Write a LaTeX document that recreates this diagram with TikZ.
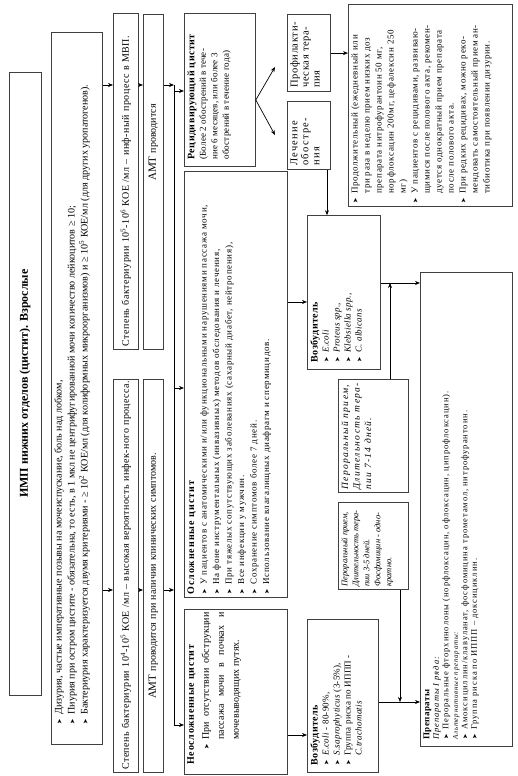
\documentclass[tikz,border=0pt]{standalone}
\usepackage{fontspec}
\setmainfont{Liberation Serif}
\newfontfamily\dvfont{DejaVu Sans}
\usetikzlibrary{arrows.meta,calc}
\newcommand\bulsym{{\dvfont\fontsize{6.5}{6.5}\selectfont\char"27A4}}
\newcommand\bul[1][12pt]{\par\noindent\hangindent=#1\hangafter=1\makebox[#1][r]{\bulsym\hspace{4pt}}\ignorespaces}
\newcommand\mkbox[7][]{\node[bx,#1] (#2) at (#3,#4) {\parbox[c][\dimexpr#6pt-6pt\relax][t]{\dimexpr#5pt-6pt\relax}{\parindent=0pt\relax #7}};}
\newcommand\fs[3]{\fontsize{#1}{#2}\selectfont\addfontfeatures{LetterSpace=#3}}
\newcommand\hd[3]{{\bfseries\fontsize{#1}{#1}\selectfont\addfontfeatures{LetterSpace=#2}#3}}
\begin{document}
\begin{tikzpicture}[x=1pt,y=1pt]
\tikzset{
 bx/.style={draw=black!75, line width=0.8pt, anchor=north west, inner sep=3pt},
 arr/.style={-{Stealth[length=5pt,width=4pt]}, line width=0.7pt},
 ln/.style={line width=0.7pt},
}
\begin{scope}[rotate=90, transform shape]
\useasboundingbox (0,0) rectangle (776,518);
% title
\node[bx, anchor=center, minimum width=623pt, minimum height=32pt, font=\bfseries\fontsize{12}{14}\selectfont] (title) at (392.5,493) {ИМП нижних отделов (цистит). Взрослые};
% criteria
\mkbox[font=\fs{10.1}{13}{0}]{crit}{31}{467}{712}{51}{%
\bul[27pt] Дизурия, частые императивные позывы на мочеиспускание, боль над лобком,
\bul[27pt] Пиурия при остром цистите - обязательна, то есть, в 1 мкл не центрифугированной мочи количество лейкоцитов ≥ 10;
\bul[27pt] Бактериурия характеризуется двумя критериями - ≥ 10\textsuperscript{2} КОЕ/мл (для колиформных микроорганизмов) и ≥ 10\textsuperscript{5} КОЕ/мл (для других уропатогенов).}
% bacteriuria
\node[bx, text width=330pt, minimum height=25pt, align=left, font=\fs{10}{12}{5}] (st1) at (426,405) {Степень бактериурии 10\textsuperscript{5}-10\textsuperscript{6} КОЕ /мл – инф-ный процесс в МВП.};
\node[bx, text width=387pt, minimum height=25pt, align=left, font=\fs{10}{12}{4}] (st2) at (3,405) {Степень бактериурии 10\textsuperscript{4}-10\textsuperscript{5} КОЕ /мл – высокая вероятность инфек-ного процесса.};
% AMT
\node[bx, text width=329pt, minimum height=20pt, align=center, font=\fs{10}{12}{0}] (amt1) at (426,375) {\hspace*{79pt}{\fontsize{11}{11}\selectfont АМТ} проводится};
\node[bx, text width=387pt, minimum height=20pt, align=center, font=\fs{10}{12}{0}] (amt2) at (3,375) {{\fontsize{11}{11}\selectfont АМТ} проводится при наличии клинических симптомов.};
% types
\mkbox[font=\fs{10}{15}{1}]{neosl}{1}{334}{165}{103}{\leftskip=7pt
\hd{10}{7}{Неосложненные цистит}
\bul[25pt] При отсутствии обструкции\linebreak пассажа мочи в почках и\linebreak мочевыводящих путях.}
\mkbox[font=\fs{9}{12.5}{8}]{osl}{178}{334}{426}{103}{%
\hd{10}{10}{Осложненные цистит}
\bul[10pt] У пациентов с анатомическими и/или функциональными нарушениями пассажа мочи,
\bul[10pt] На фоне инструментальных (инвазивных) методов обследования и лечения,
\bul[10pt] При тяжелых сопутствующих заболеваниях (сахарный диабет, нейтропения),
\bul[10pt] Все инфекции у мужчин.
\bul[10pt] Сохранение симптомов более 7 дней.
\bul[10pt] Использование влагалищных диафрагм и спермицидов.}
\mkbox[font=\fs{9}{11.5}{2}]{rec}{609}{334}{153}{71}{\leftskip=4pt
\hd{10}{5}{Рецидивирующий цистит}\\
(Более 2 обострений в тече-\\ние 6 месяцев, или более 3\\ обострений в течение года)}
\mkbox[font=\fs{10.5}{11}{6}]{prof}{684}{231}{77}{43}{\leftskip=1pt Профилакти-\\ческая тера-\\пия}
\mkbox[font=\fs{10.5}{11}{12}]{lech}{606}{231}{68}{43}{\leftskip=1pt Лечение\\обостре-\\ния}
\mkbox[font=\fs{9}{12}{7}]{det}{569}{170}{202}{164}{%
\bul[10pt] Продолжительный (ежедневный или\\ три раза в неделю прием низких доз\\ препарата нитрофурантоин 50 мг,\\ норфлоксацин 200мг, цефалексин 250\\ мг)
\bul[10pt] У пациентов с рецидивами, развиваю-\\щимися после полового акта, рекомен-\\дуется однократный прием препарата\\ после полового акта.
\bul[10pt] При редких рецидивах, можно реко-\\мендовать самостоятельный прием ан-\\тибиотика при появлении дизурии.}
% pathogens
\mkbox[font=\fs{9}{11}{3}]{vc}{406}{211}{154}{73}{\leftskip=4pt
\hd{10}{5}{Возбудитель}
\bul[10pt] \textit{E.coli}
\bul[10pt] \textit{Proteus spp.},
\bul[10pt] \textit{Klebsiella spp}.,
\bul[10pt] \textit{C. albicans}}
\mkbox[font=\fs{9}{11}{3}]{vu}{3}{211}{153}{71}{\leftskip=4pt
\hd{10}{5}{Возбудитель}
\bul[10pt] \textit{E.coli} - 80-90\%,
\bul[10pt] \textit{S.saprophyticus} (3-5\%),
\bul[10pt] Группа риска по ИППП -\\ \textit{C.trachomatis}}
\mkbox[font=\itshape\fs{9.5}{11.5}{14}]{d714}{283}{180}{113}{70}{%
Пероральный прием,\\ Длительность тера-\\пии 7-14 дней.}
\mkbox[font=\itshape\fs{8.5}{11}{0}]{d35}{186}{180}{87}{70}{%
Пероральный прием,\\ Длительность тера-\\пии 3-5 дней.\\ Фосфомицин - одно-\\кратно.}
% drugs
\mkbox[font=\fs{8.5}{9.5}{11}]{prep}{29}{98}{474}{92}{\leftskip=4pt
\hd{9}{5}{Препараты}\\
\textit{Препараты I ряда:}
\bul[10pt] Пероральные фторхинолоны (норфлоксацин, офлоксацин, ципрофлоксацин).\par
{\itshape\fontsize{7}{9.5}\selectfont Альтернативные препараты:}
\bul[10pt] Амоксициллин/клавуланат, фосфомицина трометамол, нитрофурантоин.
\bul[10pt] Группа риска по ИППП – доксициклин.}
% connectors
\draw[arr] (691,0 |- crit.south) -- (691,0 |- st1.north);
\draw[arr] (186,0 |- crit.south) -- (186,0 |- st2.north);
\draw[arr] (691,0 |- st1.south) -- (691,0 |- amt1.north);
\draw[arr] (186,0 |- st2.south) -- (186,0 |- amt2.north);
\coordinate (busR) at (691,344);
\coordinate (busM) at (388,344);
\coordinate (busL) at (186,344);
\coordinate (busE) at (51,344);
\draw[arr] (691,0 |- amt1.south) -- (busR);
\draw[ln] (busR) -- (busE);
\draw[arr] (685,344) -- (685,0 |- rec.north);
\draw[arr] (busM) -- (388,0 |- osl.north);
\draw[arr] (186,0 |- amt2.south) -- (busL);
\draw[arr] (busE) -- (51,0 |- neosl.north);
\coordinate (fork) at (676,0 |- rec.south);
\coordinate (tipP) at (709,243);
\coordinate (tipL) at (641,243);
\draw[arr] (fork) -- (tipP);
\draw[arr] (fork) -- (tipL);
\draw[arr] (prof.south) -- (prof.south |- det.north);
\draw[arr] (lech.west |- 0,191) -- (vc.east |- 0,191);
\draw[arr] (474,0 |- osl.south) -- (474,0 |- vc.north);
\draw[arr] (41,0 |- neosl.south) -- (41,0 |- vu.north);
\draw[arr] (493,0 |- vc.south) -- (493,0 |- prep.north);
\draw[arr] (d714.east |- 0,128) -- (493,128);
\draw[arr] (74,0 |- vu.south) -- (74,0 |- prep.north);
\draw[arr] (d35.west |- 0,118) -- (74,118);
\end{scope}
\end{tikzpicture}
\end{document}
